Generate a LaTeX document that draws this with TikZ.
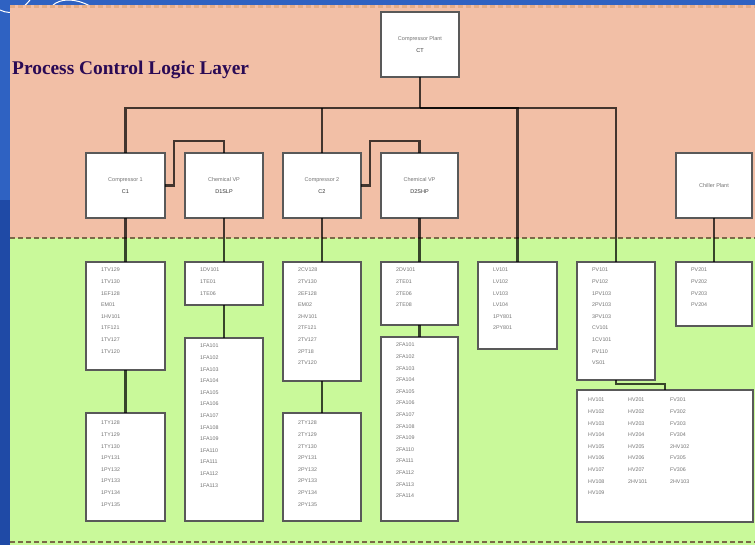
\documentclass[tikz,border=0pt]{standalone}
\usepackage{fontspec}
\setmainfont{Liberation Serif}
\newfontfamily\smallsans{Liberation Sans}
\usetikzlibrary{shadows}
\definecolor{bgblue}{HTML}{2F62C2}
\definecolor{bgbluedk}{HTML}{1F4AA6}
\definecolor{salmon}{HTML}{F2BFA6}
\definecolor{lime}{HTML}{C9F99A}
\definecolor{titlecol}{HTML}{2A0A55}
\definecolor{dashtop}{HTML}{7A6A48}
\tikzset{
  box/.style={draw=black!65, line width=1.4pt, fill=white, inner sep=0pt, outer sep=0pt,
    anchor=north west, drop shadow={shadow xshift=1.3pt, shadow yshift=-1.3pt, opacity=0.5}},
  lst/.style={anchor=north west, inner sep=0pt, align=left, text=black!55,
    font=\smallsans\fontsize{5.3}{11.6}\selectfont},
  lbl/.style={anchor=center, inner sep=0pt, align=center, text=black!55,
    font=\smallsans\fontsize{5.5}{11.5}\selectfont},
  conn/.style={draw=black, draw opacity=0.72, line width=2.8pt},
  sep/.style={draw=dashtop, line width=2pt, dash pattern=on 5pt off 3pt}
}
\newcommand\boxat[5]{\node[box, minimum width=#4pt, minimum height=#5pt] (#1) at (#2,#3) {};}
\begin{document}
\begin{tikzpicture}[x=1pt,y=-1pt]
\useasboundingbox (0,0) rectangle (755,545);
% backgrounds
\fill[bgblue] (0,0) rectangle (755,545);
\fill[bgbluedk] (0,200) rectangle (10,545);
\draw[white, line width=1pt] (0,10) .. controls (12,16) and (22,10) .. (30,0);
\draw[white, line width=1pt] (52,6) .. controls (60,-2) and (75,-2) .. (90,6);
\fill[salmon] (10,5) rectangle (755,238);
\fill[lime] (10,238) rectangle (755,545);
\draw[sep, draw=salmon!70!brown, line width=2.5pt] (10,6.5) -- (755,6.5);
\draw[sep] (10,238.5) -- (755,238.5);
\draw[sep] (10,541.5) -- (755,541.5);
% title
\node[anchor=base west, inner sep=0pt, text=titlecol, font=\bfseries\fontsize{19.4}{22}\selectfont] (title) at (12,75) {Process Control Logic Layer};
% top level
\boxat{top}{381}{12}{78}{65}
\node[lbl] (topt) at (top.center) {Compressor Plant\\[1pt]\textcolor{black!80}{CT}};
% second row
\boxat{c1}{86}{153}{79}{65}
\boxat{d1}{185}{153}{78}{65}
\boxat{c2}{283}{153}{78}{65}
\boxat{d2}{381}{153}{77}{65}
\boxat{ch}{676}{153}{76}{65}
\node[lbl] (c1t) at (c1.center) {Compressor 1\\[1pt]\textcolor{black!80}{C1}};
\node[lbl] (d1t) at (d1.center) {Chemical VP\\[1pt]\textcolor{black!80}{D1SLP}};
\node[lbl] (c2t) at (c2.center) {Compressor 2\\[1pt]\textcolor{black!80}{C2}};
\node[lbl] (d2t) at (d2.center) {Chemical VP\\[1pt]\textcolor{black!80}{D2SHP}};
\node[lbl] (cht) at (ch.center) {Chiller Plant};
% green boxes
\boxat{c1a}{86}{262}{79}{108}
\boxat{c1b}{86}{413}{79}{108}
\boxat{d1a}{185}{262}{78}{43}
\boxat{d1b}{185}{338}{78}{183}
\boxat{c2a}{283}{262}{78}{119}
\boxat{c2b}{283}{413}{78}{108}
\boxat{d2a}{381}{262}{77}{63}
\boxat{d2b}{381}{337}{77}{184}
\boxat{lv}{478}{262}{79}{87}
\boxat{pv}{577}{262}{78}{118}
\boxat{hv}{577}{390}{176}{132}
\boxat{chg}{676}{262}{76}{64}
% lists
\node[lst] (c1al) at ([xshift=15pt,yshift=-6pt]c1a.north west) {1TV129\\1TV130\\1EF128\\EM01\\1HV101\\1TF121\\1TV127\\1TV120};
\node[lst] (c1bl) at ([xshift=15pt,yshift=-8pt]c1b.north west) {1TY128\\1TY129\\1TY130\\1PY131\\1PY132\\1PY133\\1PY134\\1PY135};
\node[lst] (d1al) at ([xshift=15pt,yshift=-6pt]d1a.north west) {1DV101\\1TE01\\1TE06};
\node[lst] (d1bl) at ([xshift=15pt,yshift=-6pt]d1b.north west) {1FA101\\1FA102\\1FA103\\1FA104\\1FA105\\1FA106\\1FA107\\1FA108\\1FA109\\1FA110\\1FA111\\1FA112\\1FA113};
\node[lst] (c2al) at ([xshift=15pt,yshift=-6pt]c2a.north west) {2CV128\\2TV130\\2EF128\\EM02\\2HV101\\2TF121\\2TV127\\2PT18\\2TV120};
\node[lst] (c2bl) at ([xshift=15pt,yshift=-8pt]c2b.north west) {2TY128\\2TY129\\2TY130\\2PY131\\2PY132\\2PY133\\2PY134\\2PY135};
\node[lst] (d2al) at ([xshift=15pt,yshift=-6pt]d2a.north west) {2DV101\\2TE01\\2TE06\\2TE08};
\node[lst] (d2bl) at ([xshift=15pt,yshift=-6pt]d2b.north west) {2FA101\\2FA102\\2FA103\\2FA104\\2FA105\\2FA106\\2FA107\\2FA108\\2FA109\\2FA110\\2FA111\\2FA112\\2FA113\\2FA114};
\node[lst] (lvl) at ([xshift=15pt,yshift=-6pt]lv.north west) {LV101\\LV102\\LV103\\LV104\\1PY801\\2PY801};
\node[lst] (pvl) at ([xshift=15pt,yshift=-6pt]pv.north west) {PV101\\PV102\\1PV103\\2PV103\\3PV103\\CV101\\1CV101\\PV110\\VS01};
\node[lst] (hv1) at ([xshift=11pt,yshift=-8pt]hv.north west) {HV101\\HV102\\HV103\\HV104\\HV105\\HV106\\HV107\\HV108\\HV109};
\node[lst] (hv2) at ([xshift=51pt,yshift=-8pt]hv.north west) {HV201\\HV202\\HV203\\HV204\\HV205\\HV206\\HV207\\2HV101};
\node[lst] (hv3) at ([xshift=93pt,yshift=-8pt]hv.north west) {FV301\\FV302\\FV303\\FV304\\2HV102\\FV305\\FV306\\2HV103};
\node[lst] (chgl) at ([xshift=15pt,yshift=-6pt]chg.north west) {PV201\\PV202\\PV203\\PV204};
% connectors
\coordinate (bus) at (420,108);
\coordinate (j1) at (174,141);
\coordinate (j2) at (370,141);
\coordinate (j3) at (665,384);
\draw[conn] (top.south) -- (bus);
\draw[conn] (c1.north) |- (bus);
\draw[conn] (c2.north) -- (c2.north |- bus);
\draw[conn] (lv.north) |- (bus);
\draw[conn] (pv.north) |- (bus);
\draw[conn] (c1.east) -| (j1) -| (d1.north);
\draw[conn] (c2.east) -| (j2) -| (d2.north);
\draw[conn] (c1.south) -- (c1a.north);
\draw[conn] (c1a.south) -- (c1b.north);
\draw[conn] (d1.south) -- (d1a.north);
\draw[conn] (d1a.south) -- (d1b.north);
\draw[conn] (c2.south) -- (c2a.north);
\draw[conn] (c2a.south) -- (c2b.north);
\draw[conn] (d2.south) -- (d2a.north);
\draw[conn] (d2a.south) -- (d2b.north);
\draw[conn] (pv.south) |- (j3) -- (hv.north -| j3);
\draw[conn] (ch.south) -- (chg.north);
\end{tikzpicture}
\end{document}
